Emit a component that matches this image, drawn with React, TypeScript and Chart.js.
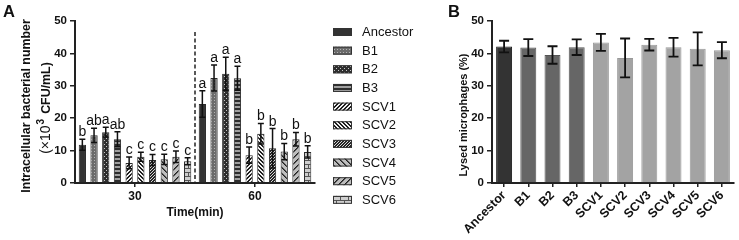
import React, { useEffect, useRef } from 'react';
import { Chart, registerables } from 'chart.js';

Chart.register(...registerables);

// ---------- data ----------
const timeLabels = ['30', '60'];
const strains = ['Ancestor', 'B1', 'B2', 'B3', 'SCV1', 'SCV2', 'SCV3', 'SCV4', 'SCV5', 'SCV6'];
const mean30 = [11.8, 14.7, 15.7, 13.5, 6.2, 8.1, 7.1, 7.3, 8.1, 6.7];
const sd30 = [1.7, 2.2, 1.5, 2.3, 1.8, 1.4, 1.7, 1.6, 1.8, 1.1];
const mean60 = [24.4, 32.4, 33.7, 32.3, 8.6, 15.2, 10.7, 9.7, 13.5, 9.6];
const sd60 = [4.1, 4.0, 5.1, 3.7, 2.5, 3.2, 6.1, 2.5, 2.1, 1.9];
const letters30 = ['b', 'ab', 'a', 'ab', 'c', 'c', 'c', 'c', 'c', 'c'];
const letters60 = ['a', 'a', 'a', 'a', 'b', 'b', 'b', 'b', 'b', 'b'];
const lysedMean = [42.1, 41.8, 39.5, 41.9, 43.4, 38.6, 42.7, 41.9, 41.4, 41.0];
const lysedSd = [1.8, 2.6, 2.7, 2.4, 2.6, 6.0, 1.8, 2.9, 5.1, 2.5];
const yMin = 0;
const yMax = 50;
const yStep = 10;

const titleA1 = 'Intracellular bacterial number';
const titleA2 = ['(×10', '3', 'CFU/mL)'];
const titleB = 'Lysed microphages (%)';
const titleX = 'Time(min)';

const patternKinds = ['solid', 'dots', 'checker', 'hstripe', 'diagR', 'diagL', 'diagDense', 'wideL', 'wideR', 'brick'];
const barColorsB = ['#333333', '#666666', '#666666', '#666666', '#a3a3a3', '#a3a3a3', '#a3a3a3', '#a3a3a3', '#a3a3a3', '#a3a3a3'];
const barBordersB = ['#1a1a1a', '#555555', '#555555', '#555555', '#999999', '#999999', '#999999', '#999999', '#999999', '#999999'];

const FONT = 'Arial, "Liberation Sans", sans-serif';

function makePattern(kind: string): any {
  if (kind === 'solid') return '#333333';
  const c = document.createElement('canvas');
  let w = 4, h = 4;
  if (kind === 'dots') { w = 3; h = 3; }
  if (kind === 'diagDense') { w = 3; h = 3; }
  if (kind === 'wideL' || kind === 'wideR') { w = 6; h = 6; }
  if (kind === 'brick') { w = 8; h = 8; }
  c.width = w; c.height = h;
  const ctx = c.getContext('2d')!;
  const px = (x: number, y: number, col: string) => { ctx.fillStyle = col; ctx.fillRect(x, y, 1, 1); };
  const bg = (col: string) => { ctx.fillStyle = col; ctx.fillRect(0, 0, w, h); };
  if (kind === 'dots') bg('#6c6c6c');
  if (kind === 'checker') bg('#2e2e2e');
  if (kind === 'hstripe') bg('#a0a0a0');
  if (kind === 'diagR' || kind === 'diagL') bg('#f2f2f2');
  if (kind === 'diagDense') bg('#d8d8d8');
  if (kind === 'wideL' || kind === 'wideR') bg('#bdbdbd');
  if (kind === 'brick') bg('#cfcfcf');
  for (let y = 0; y < h; y++) {
    for (let x = 0; x < w; x++) {
      if (kind === 'dots' && x === 1 && y === 1) px(x, y, '#b4b4b4');
      if (kind === 'checker' && ((x === 0 && y === 0) || (x === 2 && y === 2))) px(x, y, '#c8c8c8');
      if (kind === 'hstripe' && y < 2) px(x, y, '#2e2e2e');
      if (kind === 'diagR' && (x + y) % 4 < 2) px(x, y, '#1e1e1e');
      if (kind === 'diagL' && ((x - y) % 4 + 4) % 4 < 2) px(x, y, '#1e1e1e');
      if (kind === 'diagDense' && (x + y) % 3 < 2) px(x, y, '#262626');
      if (kind === 'wideL') {
        const m = ((x - y) % 6 + 6) % 6;
        if (m === 0) px(x, y, '#1e1e1e');
        if (m === 1) px(x, y, '#5a5a5a');
      }
      if (kind === 'wideR') {
        const m = (x + y) % 6;
        if (m === 0) px(x, y, '#1e1e1e');
        if (m === 1) px(x, y, '#5a5a5a');
      }
      if (kind === 'brick') {
        if (y === 0 || y === 4) px(x, y, '#555555');
        else if (y < 4 && x === 0) px(x, y, '#555555');
        else if (y > 4 && x === 4) px(x, y, '#555555');
      }
    }
  }
  return ctx.createPattern(c, 'repeat');
}

const errorBarPlugin = {
  id: 'errorBars',
  afterDatasetsDraw(chart: any, _args: any, opts: any) {
    const ctx = chart.ctx;
    const ys = chart.scales.y;
    chart.data.datasets.forEach((ds: any, di: number) => {
      const meta = chart.getDatasetMeta(di);
      meta.data.forEach((el: any, i: number) => {
        const m = ds.data[i];
        const e = ds.errs[i];
        const x = el.x;
        const yt = ys.getPixelForValue(m + e);
        const yb = ys.getPixelForValue(m - e);
        ctx.save();
        ctx.strokeStyle = '#111';
        ctx.lineWidth = opts.lineWidth;
        ctx.beginPath();
        ctx.moveTo(x, yt); ctx.lineTo(x, yb);
        ctx.moveTo(x - opts.cap, yt); ctx.lineTo(x + opts.cap, yt);
        ctx.moveTo(x - opts.cap, yb); ctx.lineTo(x + opts.cap, yb);
        ctx.stroke();
        ctx.restore();
      });
    });
  },
};

const lettersPlugin = {
  id: 'sigLetters',
  afterDatasetsDraw(chart: any) {
    const ctx = chart.ctx;
    const ys = chart.scales.y;
    chart.data.datasets.forEach((ds: any, di: number) => {
      if (!ds.letters) return;
      const meta = chart.getDatasetMeta(di);
      meta.data.forEach((el: any, i: number) => {
        const top = ys.getPixelForValue(ds.data[i] + ds.errs[i]);
        ctx.save();
        ctx.fillStyle = '#111';
        ctx.font = `14px ${FONT}`;
        ctx.textAlign = 'center';
        ctx.textBaseline = 'alphabetic';
        ctx.fillText(ds.letters[i], el.x, top - 3);
        ctx.restore();
      });
    });
  },
};

const dividerPlugin = {
  id: 'divider',
  afterDatasetsDraw(chart: any) {
    const xs = chart.scales.x;
    const ctx = chart.ctx;
    const x = (xs.getPixelForTick(0) + xs.getPixelForTick(1)) / 2;
    const { top, bottom } = chart.chartArea;
    ctx.save();
    ctx.strokeStyle = '#222';
    ctx.lineWidth = 1.5;
    ctx.setLineDash([4, 2.5]);
    ctx.beginPath();
    ctx.moveTo(x, top + 11);
    ctx.lineTo(x, bottom);
    ctx.stroke();
    ctx.restore();
  },
};

const legendPlugin = {
  id: 'patternLegend',
  afterDraw(chart: any) {
    const ctx = chart.ctx;
    const left = chart.chartArea.right + 18;
    chart.data.datasets.forEach((ds: any, i: number) => {
      const cy = 32 + i * 18.65;
      ctx.save();
      ctx.fillStyle = ds.backgroundColor;
      ctx.fillRect(left, cy - 4, 19, 8);
      ctx.strokeStyle = '#333';
      ctx.lineWidth = 1;
      ctx.strokeRect(left + 0.5, cy - 3.5, 18, 7);
      ctx.fillStyle = '#111';
      ctx.font = `13px ${FONT}`;
      ctx.textAlign = 'left';
      ctx.textBaseline = 'middle';
      ctx.fillText(ds.label, left + 29, cy + 0.5);
      ctx.restore();
    });
  },
};

const panelLetterPlugin = {
  id: 'panelLetter',
  afterDraw(chart: any, _args: any, opts: any) {
    const ctx = chart.ctx;
    ctx.save();
    ctx.fillStyle = '#111';
    ctx.font = `bold 16.5px ${FONT}`;
    ctx.textAlign = 'left';
    ctx.textBaseline = 'alphabetic';
    ctx.fillText(opts.text, opts.x, opts.y);
    ctx.restore();
  },
};

// draws rotated (reading bottom-to-top) axis titles made of runs: [text, font, rise, gapAfter]
const axisTitlePlugin = {
  id: 'axisTitles',
  afterDraw(chart: any, _args: any, opts: any) {
    const ctx = chart.ctx;
    (opts.lines || []).forEach((line: any) => {
      ctx.save();
      ctx.translate(line.x, line.y);
      ctx.rotate(-Math.PI / 2);
      ctx.fillStyle = '#111';
      ctx.textBaseline = 'middle';
      ctx.textAlign = 'left';
      let total = 0;
      line.runs.forEach((r: any) => { ctx.font = r.font; total += ctx.measureText(r.text).width + (r.gap || 0); });
      let cx = -total / 2;
      line.runs.forEach((r: any) => {
        ctx.font = r.font;
        ctx.fillText(r.text, cx, -(r.rise || 0));
        cx += ctx.measureText(r.text).width + (r.gap || 0);
      });
      ctx.restore();
    });
  },
};

const tickFont = { family: FONT, weight: 'bold' as const, size: 11.5 };

export default function App() {
  const refA = useRef<HTMLCanvasElement>(null);
  const refB = useRef<HTMLCanvasElement>(null);

  useEffect(() => {
    const patterns = patternKinds.map(makePattern);
    const chartA = new Chart(refA.current!, {
      type: 'bar',
      data: {
        labels: timeLabels,
        datasets: strains.map((s, i) => ({
          label: s,
          data: [mean30[i], mean60[i]],
          errs: [sd30[i], sd60[i]],
          letters: [letters30[i], letters60[i]],
          backgroundColor: patterns[i],
          borderColor: '#2a2a2a',
          borderWidth: 1,
          categoryPercentage: 0.975,
          barPercentage: 0.62,
        })) as any,
      },
      options: {
        animation: false,
        responsive: false,
        layout: { padding: { left: 0, right: 125, top: 21, bottom: 0 } },
        plugins: {
          legend: { display: false },
          tooltip: { enabled: false },
          errorBars: { cap: 3, lineWidth: 1.5 },
          panelLetter: { text: 'A', x: 3, y: 17 },
          axisTitles: {
            lines: [
              { x: 26.5, y: 106, runs: [{ text: titleA1, font: `bold 12.4px ${FONT}` }] },
              {
                x: 46.5, y: 108, runs: [
                  { text: titleA2[0], font: `14px ${FONT}`, gap: 1 },
                  { text: titleA2[1], font: `bold 10px ${FONT}`, rise: 5, gap: 5 },
                  { text: titleA2[2], font: `bold 12.4px ${FONT}` },
                ],
              },
            ],
          },
        } as any,
        scales: {
          x: {
            grid: { drawOnChartArea: false, offset: false, tickLength: 4, color: '#222', lineWidth: 1.5 },
            border: { color: '#222', width: 2 },
            ticks: { font: { ...tickFont, size: 12 }, color: '#111', padding: 2 },
            title: { display: true, text: titleX, color: '#111', font: { family: FONT, weight: 'bold', size: 12 }, padding: { top: 0, bottom: 19.8 } },
            afterFit: (s: any) => { s.height = 57; },
          },
          y: {
            min: yMin,
            max: yMax,
            ticks: { stepSize: yStep, font: tickFont, color: '#111', padding: 3 },
            grid: { drawOnChartArea: false, tickLength: 5, color: '#222', lineWidth: 1.5 },
            border: { color: '#222', width: 2 },
            afterFit: (s: any) => { s.width = 75; },
          },
        },
      } as any,
      plugins: [errorBarPlugin, lettersPlugin, dividerPlugin, legendPlugin, panelLetterPlugin, axisTitlePlugin],
    });

    const chartB = new Chart(refB.current!, {
      type: 'bar',
      data: {
        labels: strains,
        datasets: [{
          label: 'Lysed',
          data: lysedMean,
          errs: lysedSd,
          backgroundColor: barColorsB,
          borderColor: barBordersB,
          borderWidth: 1,
          categoryPercentage: 1,
          barPercentage: 0.66,
        }] as any,
      },
      options: {
        animation: false,
        responsive: false,
        layout: { padding: { left: 0, right: 5, top: 21, bottom: 0 } },
        plugins: {
          legend: { display: false },
          tooltip: { enabled: false },
          errorBars: { cap: 5, lineWidth: 1.8 },
          panelLetter: { text: 'B', x: 8, y: 17 },
          axisTitles: {
            lines: [{ x: 24, y: 115, runs: [{ text: titleB, font: `bold 11px ${FONT}` }] }],
          },
        } as any,
        scales: {
          x: {
            grid: { drawOnChartArea: false, offset: false, tickLength: 4, color: '#222', lineWidth: 1.5 },
            border: { color: '#222', width: 2 },
            ticks: { font: { ...tickFont, size: 12.5 }, color: '#111', padding: 1, minRotation: 45, maxRotation: 45, autoSkip: false },
            afterFit: (s: any) => { s.height = 57; },
          },
          y: {
            min: yMin,
            max: yMax,
            ticks: { stepSize: yStep, font: tickFont, color: '#111', padding: 3 },
            grid: { drawOnChartArea: false, tickLength: 5, color: '#222', lineWidth: 1.5 },
            border: { color: '#222', width: 2 },
            afterFit: (s: any) => { s.width = 52; },
          },
        },
      } as any,
      plugins: [errorBarPlugin, panelLetterPlugin, axisTitlePlugin],
    });

    return () => { chartA.destroy(); chartB.destroy(); };
  }, []);

  return (
    <div style={{ position: 'absolute', left: 0, top: 0, width: 739, height: 240, background: '#fff' }}>
      <canvas ref={refA} width={440} height={240} style={{ position: 'absolute', left: 0, top: 0 }} />
      <canvas ref={refB} width={299} height={240} style={{ position: 'absolute', left: 440, top: 0 }} />
    </div>
  );
}
